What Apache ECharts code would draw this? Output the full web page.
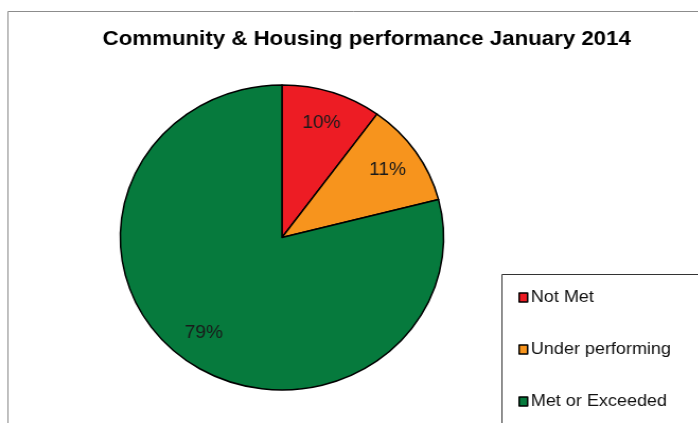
<!DOCTYPE html>
<html>
<head>
<meta charset="utf-8">
<script src="https://cdn.jsdelivr.net/npm/echarts@6/dist/echarts.min.js"></script>
<style>
  html, body { margin: 0; padding: 0; background: #ffffff; overflow: hidden; }
  #wrap { width: 698px; height: 423px; overflow: hidden; }
  /* The chart is laid out on a slightly narrower canvas and widened horizontally */
  #chart { width: 659px; height: 423px; transform: scaleX(1.06); transform-origin: 0 0; }
</style>
</head>
<body>
<div id="wrap"><div id="chart"></div></div>
<script>
// Performance categories and their share of measures (%)
const categories = ['Not Met', 'Under performing', 'Met or Exceeded'];
const shares = [10, 11, 79];
const sliceColors = ['#ED1C24', '#F7941D', '#067A3D'];
const chartTitle = 'Community & Housing performance January 2014';

const pieData = categories.map((name, i) => ({
  name: name,
  value: shares[i],
  itemStyle: { color: sliceColors[i] }
}));

const center = [266, 237.5];
const outerR = 152.5;

const chart = echarts.init(document.getElementById('chart'), null, { renderer: 'canvas' });

chart.setOption({
  animation: false,
  backgroundColor: '#ffffff',
  title: {
    text: chartTitle,
    left: 346,
    top: 29,
    textAlign: 'center',
    padding: 0,
    textStyle: {
      fontFamily: 'Liberation Sans, Arial, sans-serif',
      fontWeight: 'bold',
      fontSize: 21,
      color: '#000000'
    }
  },
  legend: {
    orient: 'vertical',
    left: 489,
    top: 289,
    padding: 0,
    itemWidth: 8,
    itemHeight: 9,
    itemGap: 35,
    icon: 'rect',
    data: categories.map((name, i) => ({
      name: name,
      itemStyle: { color: sliceColors[i], borderColor: '#000000', borderWidth: 1.5 }
    })),
    textStyle: {
      fontFamily: 'Liberation Sans, Arial, sans-serif',
      fontSize: 17,
      color: '#111111',
      padding: [0, 0, 0, -2]
    },
    selectedMode: false
  },
  graphic: [
    {
      type: 'rect',
      silent: true,
      shape: { x: 7.5, y: 11.5, width: 800, height: 600 },
      style: { fill: 'none', stroke: '#8c8c8c', lineWidth: 1 }
    },
    {
      type: 'rect',
      silent: true,
      shape: { x: 473.5, y: 274.5, width: 400, height: 300 },
      style: { fill: 'none', stroke: '#333333', lineWidth: 1 }
    }
  ],
  series: [
    {
      type: 'pie',
      center: center,
      radius: [0, outerR],
      startAngle: 90,
      clockwise: true,
      silent: true,
      label: { show: false },
      labelLine: { show: false },
      itemStyle: { borderColor: '#000000', borderWidth: 1.5 },
      emphasis: { disabled: true },
      data: pieData
    },
    {
      // transparent ring that carries the percentage labels further out
      type: 'pie',
      center: center,
      radius: [outerR * 0.54, outerR],
      startAngle: 90,
      clockwise: true,
      silent: true,
      legendHoverLink: false,
      itemStyle: { color: 'rgba(0,0,0,0)', borderWidth: 0 },
      label: {
        show: true,
        position: 'inside',
        formatter: '{c}%',
        fontFamily: 'Liberation Sans, Arial, sans-serif',
        fontSize: 18,
        color: '#1a1a1a'
      },
      labelLine: { show: false },
      emphasis: { disabled: true },
      data: categories.map((name, i) => ({ name: name, value: shares[i] }))
    }
  ]
});
</script>
</body>
</html>
